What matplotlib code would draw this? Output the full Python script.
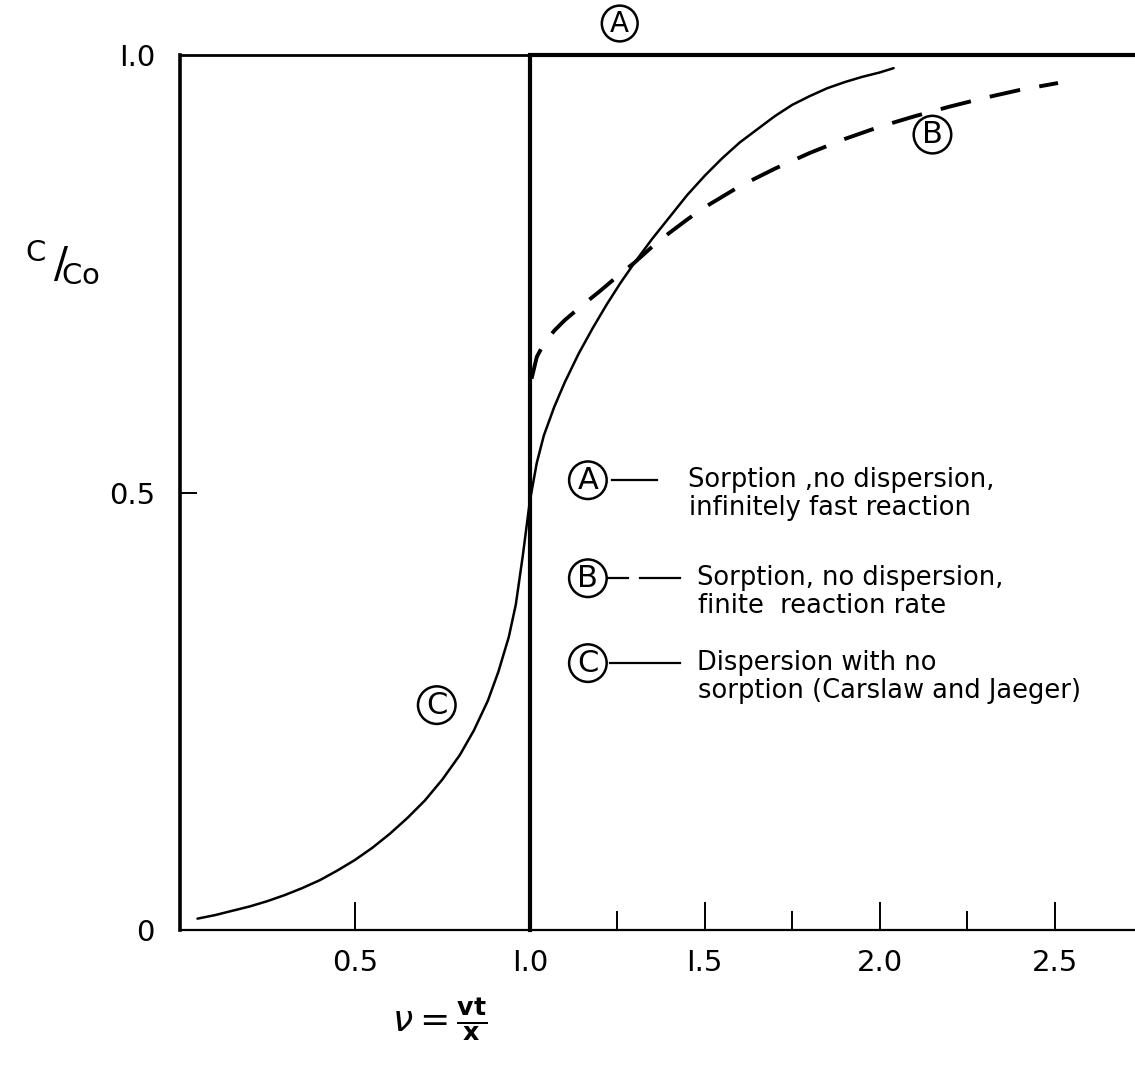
import matplotlib
matplotlib.use("Agg")
import matplotlib.pyplot as plt
from matplotlib.ticker import FixedLocator

# ---- data ----
# Curve C: dispersion with no sorption (Carslaw and Jaeger)
c_x = [0.05, 0.10, 0.15, 0.20, 0.25, 0.30, 0.35, 0.40, 0.45, 0.50, 0.55, 0.60, 0.65, 0.70,
       0.75, 0.80, 0.84, 0.88, 0.91, 0.94, 0.96, 0.98, 1.00, 1.02, 1.04, 1.07, 1.10, 1.14,
       1.18, 1.22, 1.26, 1.30, 1.35, 1.40, 1.45, 1.50, 1.55, 1.60, 1.65, 1.70, 1.75, 1.80,
       1.85, 1.90, 1.95, 2.00, 2.04]
c_y = [0.013, 0.017, 0.022, 0.027, 0.033, 0.040, 0.048, 0.057, 0.068, 0.080, 0.094, 0.110,
       0.128, 0.148, 0.172, 0.200, 0.228, 0.262, 0.295, 0.335, 0.372, 0.428, 0.490, 0.534,
       0.565, 0.598, 0.626, 0.659, 0.688, 0.715, 0.740, 0.763, 0.790, 0.815, 0.840, 0.862,
       0.882, 0.900, 0.915, 0.930, 0.943, 0.953, 0.962, 0.969, 0.975, 0.980, 0.985]
# Curve B: sorption, no dispersion, finite reaction rate
b_x = [1.005, 1.02, 1.04, 1.07, 1.10, 1.15, 1.20, 1.25, 1.30, 1.35, 1.40, 1.45, 1.50,
       1.60, 1.70, 1.80, 1.90, 2.00, 2.10, 2.20, 2.30, 2.40, 2.51]
b_y = [0.630, 0.655, 0.670, 0.685, 0.697, 0.714, 0.730, 0.747, 0.763, 0.781, 0.797, 0.812,
       0.826, 0.850, 0.870, 0.888, 0.904, 0.918, 0.930, 0.941, 0.951, 0.960, 0.968]
# Curve A: sorption, no dispersion, infinitely fast reaction (step at nu = 1)
a_x = [1.0, 1.0, 2.73]
a_y = [0.0, 1.0, 1.0]

x_major = [0.5, 1.0, 1.5, 2.0, 2.5]
x_minor = [1.25, 1.75, 2.25]
x_labels = ["0.5", "I.0", "I.5", "2.0", "2.5"]
y_ticks = [0, 0.5, 1.0]
y_labels = ["0", "0.5", "I.0"]

legend_lines = [
    ("A", "Sorption ,no dispersion,", "infinitely fast reaction"),
    ("B", "Sorption, no dispersion,", "finite  reaction rate"),
    ("C", "Dispersion with no", "sorption (Carslaw and Jaeger)"),
]

plt.rcParams['font.family'] = ['DejaVu Sans']
fig = plt.figure(figsize=(11.35, 10.65), dpi=100)
ax = fig.add_axes([180/1135, 1 - 930/1065, 1 - 180/1135, (930 - 55)/1065])
ax.set_xlim(0, 2.73)
ax.set_ylim(0, 1.0)

ax.spines['right'].set_visible(False)
ax.spines['left'].set_linewidth(2.6)
ax.spines['bottom'].set_linewidth(1.6)
ax.spines['top'].set_linewidth(2.0)

# curves
ax.plot(a_x, a_y, color='black', lw=3.0, solid_joinstyle='miter', clip_on=False)
ax.plot(c_x, c_y, color='black', lw=1.8, solid_capstyle='round')
ax.plot(b_x, b_y, color='black', lw=2.8, dashes=(8, 5))

# ticks
ax.xaxis.set_major_locator(FixedLocator(x_major))
ax.xaxis.set_minor_locator(FixedLocator(x_minor))
ax.set_xticklabels(x_labels)
ax.yaxis.set_major_locator(FixedLocator(y_ticks))
ax.set_yticklabels(y_labels)
ax.tick_params(axis='x', which='major', direction='in', length=20, width=1.4, pad=14, labelsize=21)
ax.tick_params(axis='x', which='minor', direction='in', length=14, width=1.4)
ax.tick_params(axis='y', which='major', direction='in', length=12, width=1.4, pad=18, labelsize=21)
for t, v in zip(ax.yaxis.get_major_ticks(), y_ticks):
    if v != 0.5:
        t.tick1line.set_visible(False)

# axis labels
fig.text(62/1135, 1 - 262/1065, r"${}^{\mathsf{C}}\,/\!{}_{\mathsf{Co}}$", fontsize=30,
         ha='center', va='center')
fig.text(440/1135, 1 - 1020/1065, r"$\nu = \frac{\mathbf{vt}}{\mathbf{x}}$", fontsize=26,
         ha='center', va='center')

circ = dict(boxstyle='circle,pad=0.14', fc='white', ec='black', lw=1.8)
def circled(x, y, s, size=22):
    ax.text(x, y, s, fontsize=size, ha='center', va='center', bbox=circ, clip_on=False)

circled(1.257, 1.036, "A", size=20)
circled(2.151, 0.909, "B")
circled(0.734, 0.257, "C")

# legend block
leg_y = [0.514, 0.402, 0.305]
text_x = [1.451, 1.477, 1.477]
for (lab, l1, l2), yy, tx in zip(legend_lines, leg_y, text_x):
    circled(1.166, yy, lab)
    ax.text(tx, yy, l1, fontsize=18.5, ha='left', va='center')
    ax.text(tx + 0.005, yy - 0.032, l2, fontsize=18.5, ha='left', va='center')
ax.plot([1.234, 1.363], [leg_y[0], leg_y[0]], color='black', lw=1.6)
ax.plot([1.22, 1.28], [leg_y[1], leg_y[1]], color='black', lw=1.6)
ax.plot([1.314, 1.429], [leg_y[1], leg_y[1]], color='black', lw=1.6)
ax.plot([1.229, 1.429], [leg_y[2], leg_y[2]], color='black', lw=1.6)

fig.savefig("out.png", dpi=100)
